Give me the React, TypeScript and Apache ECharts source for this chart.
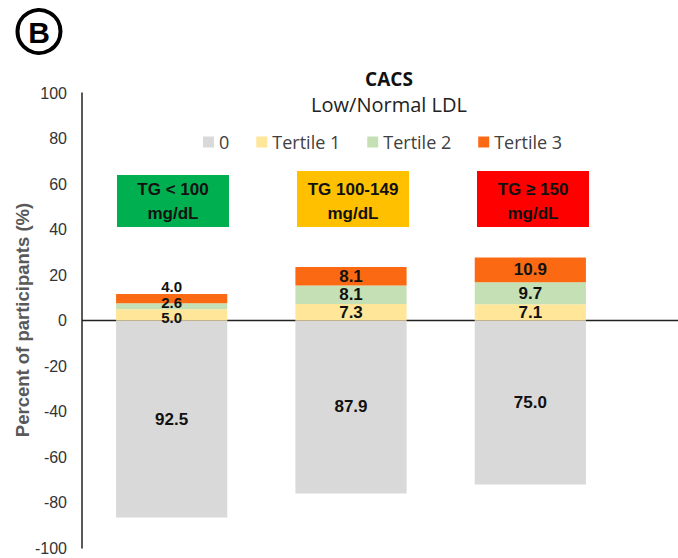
import React, { useEffect, useRef } from "react";
import * as echarts from "echarts";

const categories = ["TG < 100", "TG 100-149", "TG ≥ 150"];
const boxLabels = ["TG < 100\nmg/dL", "TG 100-149\nmg/dL", "TG ≥ 150\nmg/dL"];
const boxColors = ["#00b050", "#ffc000", "#ff0000"];
const seriesNames = ["0", "Tertile 1", "Tertile 2", "Tertile 3"];
// Gray bars as drawn (downward) and the values printed on them
const zeroBarHeights = [-86.6, -76.0, -72.1];
const zeroLabels = ["92.5", "87.9", "75.0"];
const tertile1 = [5.0, 7.3, 7.1];
const tertile2 = [2.6, 8.1, 9.7];
const tertile3 = [4.0, 8.1, 10.9];
const yTicks = { min: -100, max: 100, interval: 20 };

export default function App() {
  const ref = useRef<HTMLDivElement>(null);
  useEffect(() => {
    if (!ref.current) return;
    const chart = echarts.init(ref.current, undefined, { renderer: "svg" });
    const arial = "Liberation Sans, Arial, sans-serif";
    const labelStyle = {
      show: true,
      position: "inside",
      color: "#111",
      fontWeight: "bold",
      fontSize: 17,
      fontFamily: arial,
    };
    const colors = ["#d9d9d9", "#ffe699", "#c5e0b4", "#fb6a12"];
    const firstBarOffsets = [
      [0, 0],
      [0, 3],
      [0, -4],
      [0, -12.5],
    ];
    const mk = (i: number, data: number[], labels?: string[]) => ({
      name: seriesNames[i],
      type: "bar",
      stack: "total",
      barWidth: "62%",
      itemStyle: { color: colors[i] },
      data: data.map((v, j) => ({
        value: v,
        label: {
          ...labelStyle,
          fontSize: j === 0 && i > 0 ? 15 : 17,
          lineHeight: j === 0 && i > 0 ? 15 : 19,
          offset: j === 0 ? firstBarOffsets[i] : [0, 0],
          formatter: labels ? labels[j] : v.toFixed(1),
        },
      })),
      emphasis: { disabled: true },
    });

    const graphics: any[] = [
      {
        type: "circle",
        shape: { cx: 39, cy: 31.5, r: 21.5 },
        style: { fill: "none", stroke: "#000", lineWidth: 4 },
      },
      {
        type: "text",
        x: 39,
        y: 32.5,
        style: {
          text: "B",
          fontSize: 30,
          fontWeight: "bold",
          fontFamily: arial,
          fill: "#000",
          align: "center",
          verticalAlign: "middle",
        },
      },
      {
        type: "text",
        x: 389,
        y: 79,
        style: {
          text: "CACS",
          fontSize: 19,
          lineHeight: 19,
          fontWeight: "bold",
          fontFamily: "Open Sans, sans-serif",
          fill: "#111",
          align: "center",
          verticalAlign: "middle",
        },
      },
      {
        type: "text",
        x: 389,
        y: 104,
        style: {
          text: "Low/Normal LDL",
          fontSize: 20,
          lineHeight: 20,
          fontFamily: "Open Sans, sans-serif",
          fill: "#222",
          align: "center",
          verticalAlign: "middle",
        },
      },
      {
        type: "text",
        x: 22,
        y: 320,
        rotation: Math.PI / 2,
        style: {
          text: "Percent of participants (%)",
          fontSize: 18.5,
          fontWeight: "bold",
          fontFamily: arial,
          fill: "#595959",
          align: "center",
          verticalAlign: "middle",
        },
      },
    ];
    const boxX = [117, 297, 477];
    const boxTop = [175, 171, 171];
    boxLabels.forEach((t, i) => {
      graphics.push({
        type: "rect",
        shape: { x: boxX[i], y: boxTop[i], width: 112, height: 227 - boxTop[i] },
        style: { fill: boxColors[i] },
      });
      graphics.push({
        type: "text",
        x: boxX[i] + 56,
        y: 201,
        style: {
          text: t,
          fontSize: 17,
          fontWeight: "bold",
          lineHeight: 24,
          fontFamily: arial,
          fill: "#111",
          align: "center",
          verticalAlign: "middle",
        },
      });
    });

    chart.setOption({
      animation: false,
      grid: { left: 82, right: 58, top: 93, bottom: 10, containLabel: false },
      legend: {
        data: seriesNames,
        top: 128,
        left: 198,
        itemWidth: 11,
        itemHeight: 11,
        itemGap: 27,
        icon: "rect",
        textStyle: {
          fontSize: 18,
          color: "#404040",
          fontFamily: "Open Sans, sans-serif",
        },
      },
      xAxis: {
        type: "category",
        data: categories,
        axisLine: { show: false },
        axisTick: { show: false },
        axisLabel: { show: false },
      },
      yAxis: {
        type: "value",
        min: yTicks.min,
        max: yTicks.max,
        interval: yTicks.interval,
        splitLine: { show: false },
        axisLine: { show: true, lineStyle: { color: "#222", width: 1.5 } },
        axisTick: { show: false },
        axisLabel: {
          margin: 15,
          fontSize: 16,
          color: "#333",
          fontFamily: arial,
        },
      },
      graphic: graphics,
      series: [
        mk(0, zeroBarHeights, zeroLabels),
        mk(1, tertile1),
        mk(2, tertile2),
        mk(3, tertile3),
      ],
    });
    const yZero = chart.convertToPixel({ yAxisIndex: 0 }, 0) as number;
    chart.setOption({
      graphic: [
        ...graphics,
        {
          type: "line",
          shape: { x1: 82, y1: yZero, x2: 678, y2: yZero },
          style: { stroke: "#222", lineWidth: 1.5 },
        },
      ],
    });
    return () => chart.dispose();
  }, []);
  return (
    <div
      ref={ref}
      style={{ position: "fixed", left: 0, top: 0, width: 678, height: 558, background: "#fff" }}
    />
  );
}
